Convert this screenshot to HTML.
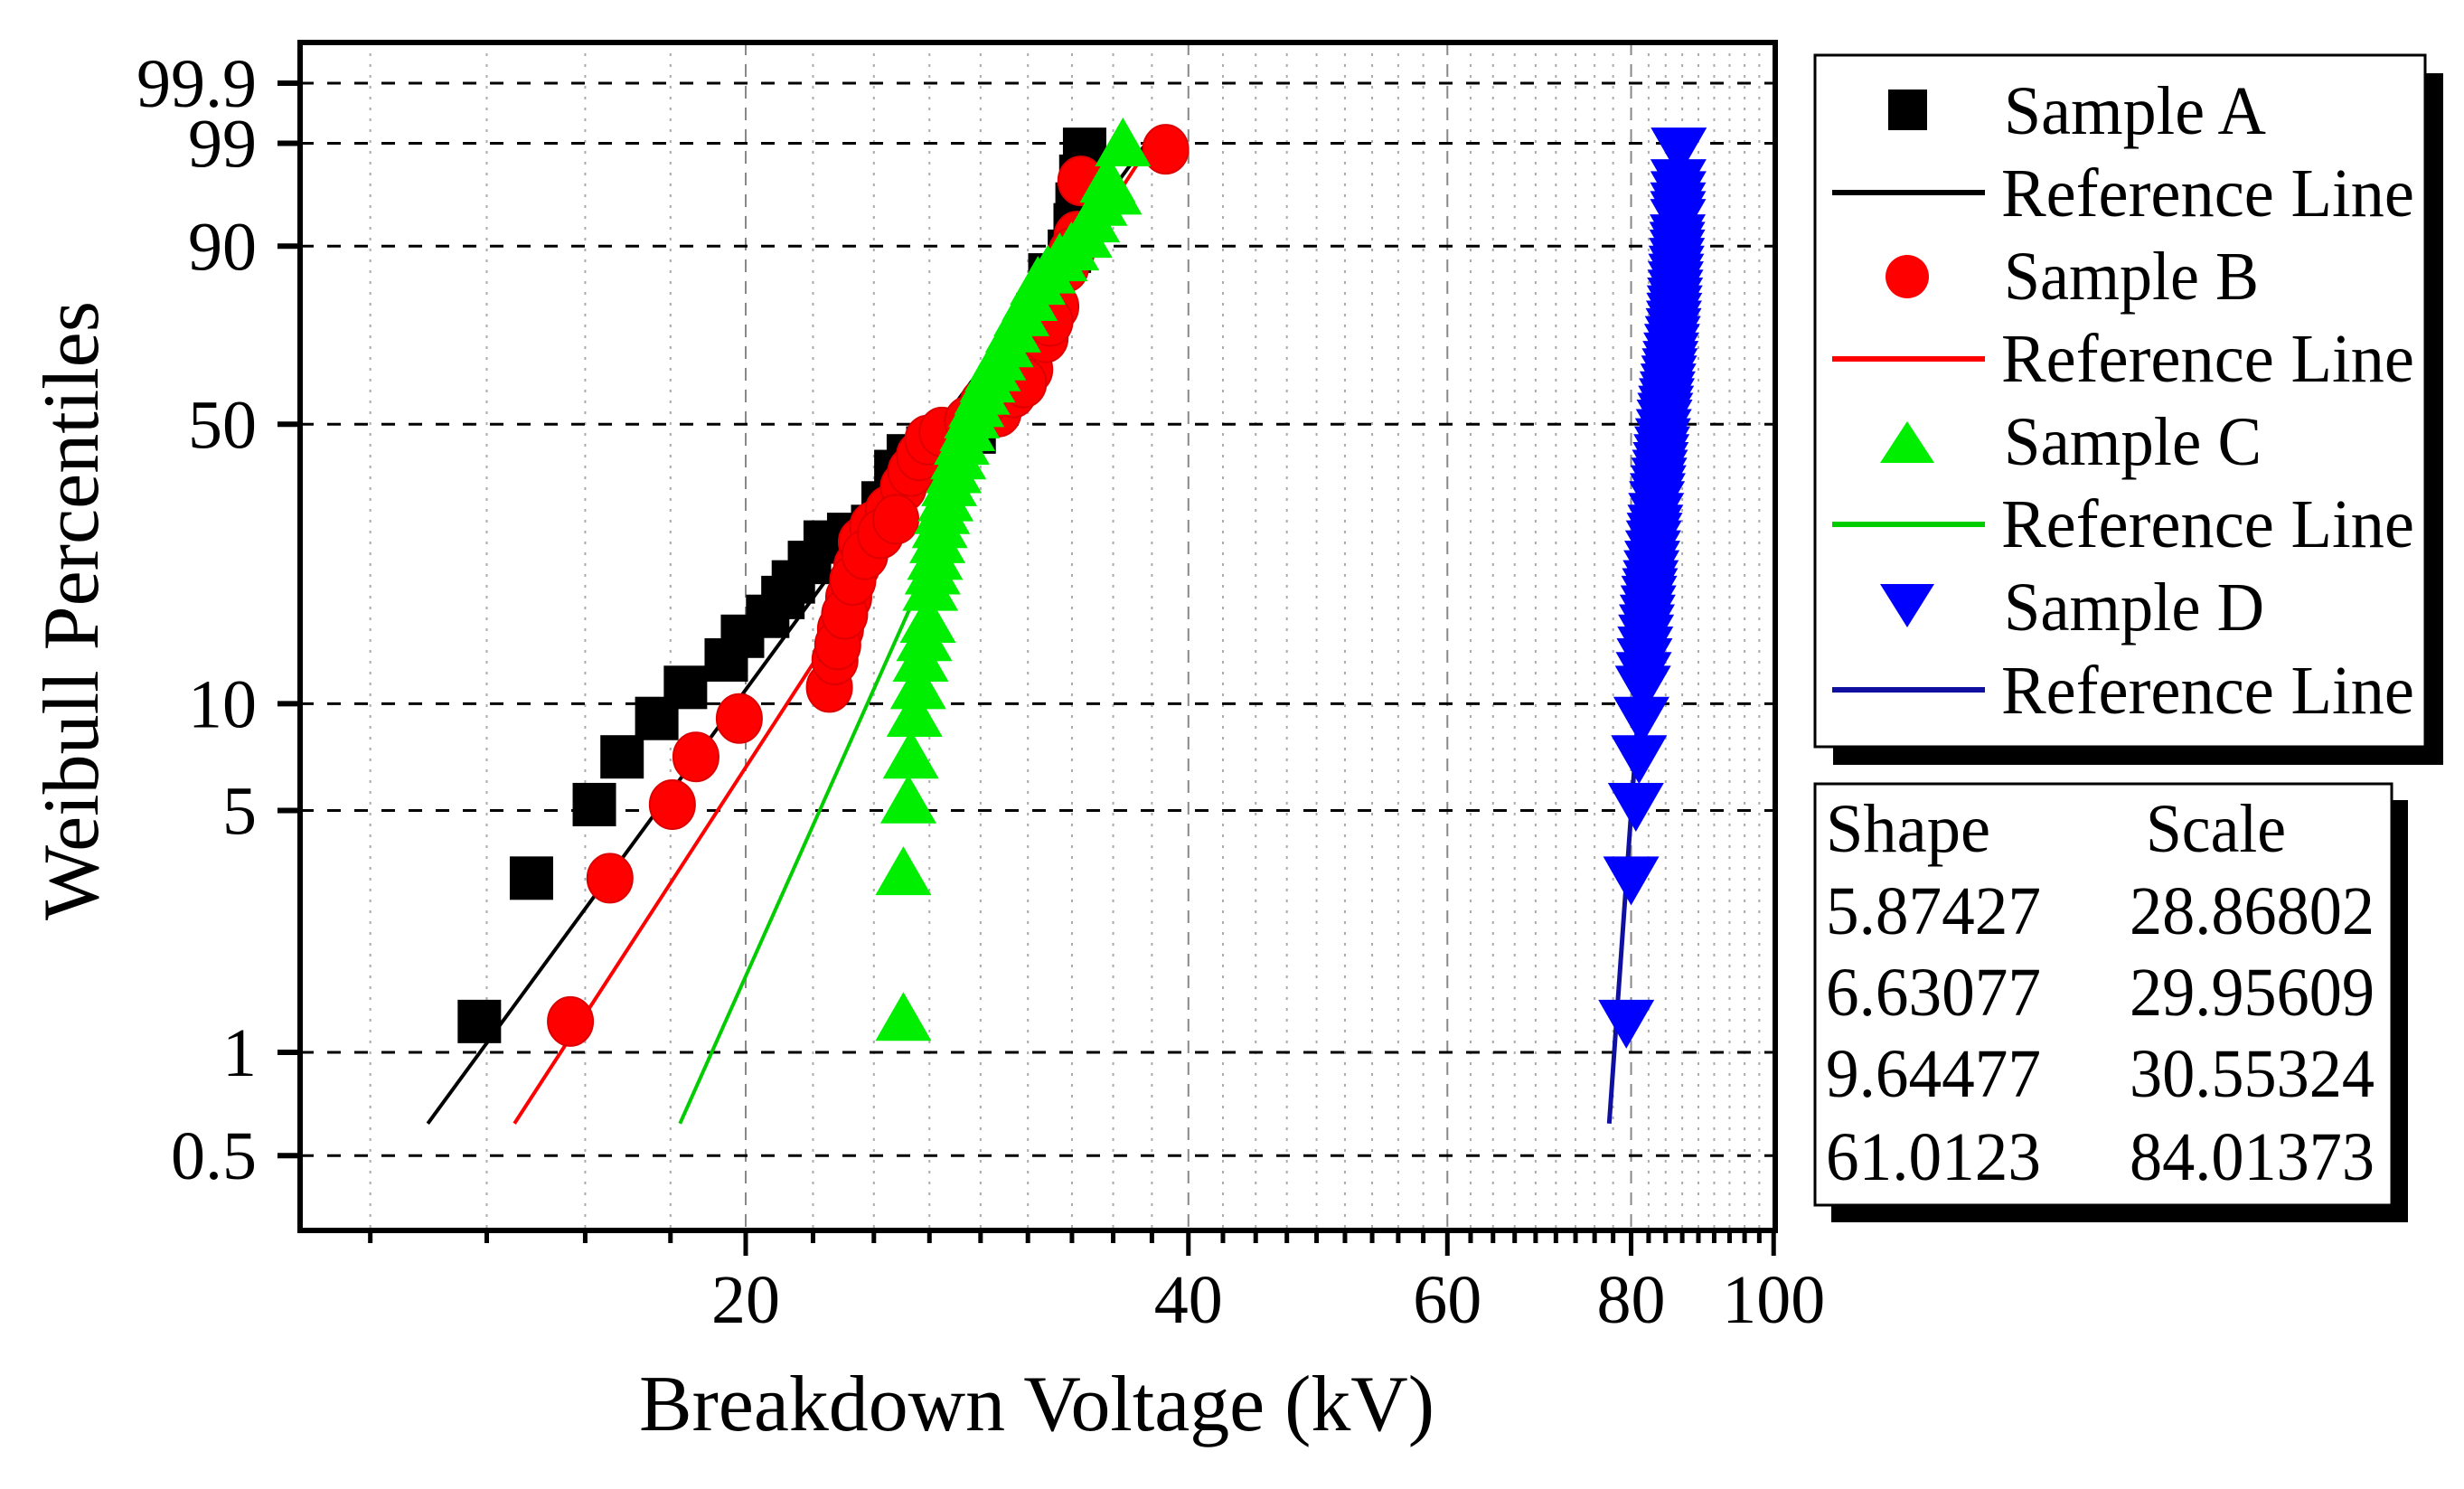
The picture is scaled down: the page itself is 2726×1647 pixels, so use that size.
<!DOCTYPE html>
<html><head><meta charset="utf-8"><style>
html,body{margin:0;padding:0;background:#fff;}
svg{display:block;font-family:"Liberation Serif",serif;}
</style></head><body>
<svg id="chart" xmlns="http://www.w3.org/2000/svg" width="2726" height="1647" viewBox="0 0 2726 1647">
<g id="grid"></g>
<g id="reflines"></g>
<g id="marks"></g>
<g id="axes"></g>
<text x="707" y="1582" font-size="88" textLength="880" lengthAdjust="spacingAndGlyphs">Breakdown Voltage (kV)</text>
<text transform="translate(108,1018) rotate(-90)" font-size="88" textLength="685" lengthAdjust="spacingAndGlyphs">Weibull Percentiles</text>
<g>
<rect x="2028" y="81" width="675" height="765" fill="#000"/>
<rect x="2008" y="61" width="675" height="765" fill="#fff" stroke="#000" stroke-width="3"/>
<rect x="2089" y="99" width="43" height="45" fill="#000"/>
<text x="2217" y="148" font-size="76" textLength="290" lengthAdjust="spacingAndGlyphs">Sample A</text>
<line x1="2027" y1="213" x2="2196" y2="213" stroke="#000" stroke-width="6"/>
<text x="2214" y="239" font-size="76" textLength="457" lengthAdjust="spacingAndGlyphs">Reference Line</text>
<circle cx="2110" cy="306" r="24" fill="#ff0000"/>
<text x="2217" y="331" font-size="76" textLength="282" lengthAdjust="spacingAndGlyphs">Sample B</text>
<line x1="2027" y1="397" x2="2196" y2="397" stroke="#ff0000" stroke-width="6"/>
<text x="2214" y="422" font-size="76" textLength="457" lengthAdjust="spacingAndGlyphs">Reference Line</text>
<polygon points="2110,466 2140,512 2080,512" fill="#00ee00"/>
<text x="2217" y="514" font-size="76" textLength="285" lengthAdjust="spacingAndGlyphs">Sample C</text>
<line x1="2027" y1="580" x2="2196" y2="580" stroke="#00cc00" stroke-width="6"/>
<text x="2214" y="605" font-size="76" textLength="457" lengthAdjust="spacingAndGlyphs">Reference Line</text>
<polygon points="2080,646 2140,646 2110,694" fill="#0000ff"/>
<text x="2217" y="697" font-size="76" textLength="288" lengthAdjust="spacingAndGlyphs">Sample D</text>
<line x1="2027" y1="763" x2="2196" y2="763" stroke="#1010a0" stroke-width="6"/>
<text x="2214" y="789" font-size="76" textLength="457" lengthAdjust="spacingAndGlyphs">Reference Line</text>
</g>
<g>
<rect x="2026" y="885" width="638" height="467" fill="#000"/>
<rect x="2008" y="867" width="638" height="466" fill="#fff" stroke="#000" stroke-width="3"/>
<text x="2020" y="942" font-size="76" textLength="182" lengthAdjust="spacingAndGlyphs">Shape</text>
<text x="2374" y="942" font-size="76" textLength="155" lengthAdjust="spacingAndGlyphs">Scale</text>
<g id="tablerows"></g>
</g>
</svg>
<script>
// ---- data ----
const xMajorTicks = [20, 40, 60, 80, 100];
const yTickLabels = ["99.9", "99", "90", "50", "10", "5", "1", "0.5"];
const yTickValues = [99.9, 99, 90, 50, 10, 5, 1, 0.5];
const shapes = [5.87427, 6.63077, 9.64477, 61.0123];
const scales = [28.86802, 29.95609, 30.55324, 84.01373];
const shapeLabels = ["5.87427", "6.63077", "9.64477", "61.0123"];
const scaleLabels = ["28.86802", "29.95609", "30.55324", "84.01373"];
const aX = [13.18,14.3,15.78,16.48,17.4,18.2,19.4,19.9,20.7,21.2,21.55,22.1,22.65,23.5,24.4,24.8,25.3,25.8,26.6,27.2,28.6,30.1,31.6,32.2,33.2,33.6,34.0,33.8,33.5];
const aP = [1.23,3.2,5.2,7.1,9.1,11.1,13.2,15.3,17.3,19.4,21.3,23.9,26.9,28.1,29.4,33.5,39.6,42.9,44.6,45.7,48.2,61.4,76.6,85.0,89.2,95.3,98.8,97.5,93.0];
const bX = [15.2,16.17,17.83,18.5,19.8,22.8,23.0,23.2,23.5,23.8,23.97,24.4,25.0,25.6,25.9,26.25,26.6,27.2,28.3,29.7,30.4,31.2,31.96,32.5,33.0,33.6,33.8,38.6,23.1,23.35,23.65,24.1,24.7,25.3,29.0,30.9,32.2,33.3];
const bP = [1.23,3.2,5.2,7.1,9.1,11.1,13.2,16.0,19.4,23.4,26.9,29.4,32.1,36.5,39.6,42.9,46.4,48.2,50.7,52.9,57.5,63.3,71.1,78.4,86.4,91.5,97.2,98.8,14.5,17.5,21.5,25.0,28.2,30.6,55.0,60.0,75.0,89.0];
const cX = [25.6,25.6,25.8,25.9,26.05,26.2,26.3,26.6,26.7,26.9,27.1,27.35,27.7,28.05,28.5,28.96,29.45,30.05,30.8,31.6,32.7,33.99,34.8,35.25,36.1,26.45,26.8,27.0,27.2,27.5,27.9,28.3,28.7,29.2,29.7,30.4,31.2,32.1,33.3,34.4,35.6];
const cP = [1.25,3.3,5.3,7.1,9.3,11.1,13.2,16.8,20.4,24.5,29.4,34.1,39.6,45.7,51.8,57.5,63.3,69.2,76.6,83.4,87.8,91.5,95.3,97.2,98.96,15.0,22.5,27.0,31.8,37.0,42.5,48.8,54.5,60.5,66.0,72.8,80.0,85.6,89.6,93.5,96.3];
const dX = [79.4,80.0,80.6,81.0,81.3,81.5,81.7,81.9,82.1,82.3,82.5,82.7,82.9,83.1,83.3,83.5,83.7,83.9,84.1,84.3,84.5,84.7,84.9,85.1,85.3,85.5,85.6,85.7,85.8,85.9,86.0,86.05,86.1,86.1,86.15,86.2,81.6,81.8,82.0,82.2,82.4,82.6,82.8,83.0,83.2,83.4,83.6,83.8,84.0,84.2,84.4,84.6,84.8,85.0,85.2,85.4,85.55,85.65,85.75,85.85,85.95,86.0,86.1,86.15];
const dP = [1.23,3.2,5.2,7.1,9.1,11.1,13.2,15.3,17.3,19.4,21.3,23.9,26.9,29.4,33.5,36.5,39.6,42.9,46.4,50.7,54.0,57.5,61.4,65.0,69.2,73.0,76.6,80.0,83.4,86.4,89.2,91.5,93.5,95.3,97.2,98.8,12.1,14.2,16.3,18.3,20.3,22.6,25.4,28.1,31.4,35.0,38.0,41.2,44.6,48.5,52.3,55.8,59.4,63.2,67.1,71.1,74.8,78.3,81.7,84.9,87.8,90.4,94.4,96.3];

// ---- axes functions ----
const L=332,T=47,R=1964,B=1361;
function xs(v){return 825 + 1627*Math.log10(v/20);}
function wb(p){return Math.log(-Math.log(1-p/100));}
function ys(p){return 92 + (wb(99.9)-wb(p))*164.1;}
const NS="http://www.w3.org/2000/svg";
function mk(tag,attrs,parent){const e=document.createElementNS(NS,tag);for(const k in attrs)e.setAttribute(k,attrs[k]);parent.appendChild(e);return e;}

const grid=document.getElementById('grid'), axes=document.getElementById('axes');
for(let k=-4;k<=36;k++){
  const v=20+k*20/9; if(v<10.05||v>100.01) continue;
  const isMajor = Math.abs(k%9)===0;
  const x=xs(v);
  if(!(x<L+3||x>R-3)){
    const gl=mk('line',{x1:x,y1:T,x2:x,y2:B,stroke:isMajor?'#888':'#aaa','stroke-width':2,'stroke-dasharray':isMajor?'14,10':'3,9'},grid);
    
    
  }
  const tk=mk('line',{x1:x,y1:B,x2:x,y2:B+(isMajor?28:14),stroke:'#000','stroke-width':5},axes);
  
  
}
xMajorTicks.forEach(v=>{
  const t=mk('text',{x:xs(v),y:1463,'font-size':76,'text-anchor':'middle'},axes);
  t.textContent=String(v);
  
  
});
yTickValues.forEach((p,i)=>{
  const y=ys(p);
  const g=mk('line',{x1:L,y1:y,x2:R,y2:y,stroke:'#000','stroke-width':3,'stroke-dasharray':'15,15'},grid);
  
  
  const tk=mk('line',{x1:307,y1:y,x2:L,y2:y,stroke:'#000','stroke-width':6},axes);
  
  
  const t=mk('text',{x:284,y:y+26,'font-size':76,'text-anchor':'end'},axes);
  t.textContent=yTickLabels[i];
  
  
});
const frame=mk('rect',{x:L,y:T,width:R-L,height:B-T,fill:'none',stroke:'#000','stroke-width':6},axes);



const refColors=['#000','#ff0000','#00cc00','#1010a0'];
const refNames=['reference-line-a','reference-line-b','reference-line-c','reference-line-d'];
const rl=document.getElementById('reflines');
shapes.forEach((b,i)=>{
  const w0=-5.08, w1=wb(99);
  const x0=scales[i]*Math.exp(w0/b), x1=scales[i]*Math.exp(w1/b);
  const y0=92+(wb(99.9)-w0)*164.1, y1=ys(99);
  const ln=mk('line',{x1:xs(x0),y1:y0,x2:xs(x1),y2:y1,stroke:refColors[i],'stroke-width':i===3?5:4},rl);
  
  
});

const marks=document.getElementById('marks');
function drawSeries(xsArr,psArr,kind,color,name){
  const g=mk('g',{},marks);
  
  
  xsArr.forEach((v,i)=>{
    const cx=xs(v), cy=ys(psArr[i]); let e;
    if(kind==='sq') e=mk('rect',{x:cx-24,y:cy-24,width:48,height:48,fill:color},g);
    else if(kind==='ci') e=mk('ellipse',{cx:cx,cy:cy,rx:25,ry:27,fill:color,stroke:'#d00','stroke-width':2},g);
    else if(kind==='up') e=mk('polygon',{points:`${cx},${cy-30} ${cx+31},${cy+24} ${cx-31},${cy+24}`,fill:color},g);
    else e=mk('polygon',{points:`${cx-31},${cy-24} ${cx+31},${cy-24} ${cx},${cy+30}`,fill:color},g);
    
    
  });
}
drawSeries(aX,aP,'sq','#000','series-sample-a');
drawSeries(bX,bP,'ci','#ff0000','series-sample-b');
drawSeries(cX,cP,'up','#00ee00','series-sample-c');
drawSeries(dX,dP,'dn','#0000ff','series-sample-d');

const tr=document.getElementById('tablerows');
const rowY=[1033,1123,1213,1305];
shapeLabels.forEach((s,i)=>{
  const a=mk('text',{x:2020,y:rowY[i],'font-size':76,textLength:238,lengthAdjust:'spacingAndGlyphs'},tr); a.textContent=s;
  
  
  const b=mk('text',{x:2356,y:rowY[i],'font-size':76,textLength:271,lengthAdjust:'spacingAndGlyphs'},tr); b.textContent=scaleLabels[i];
  
  
});
</script>
</body></html>
